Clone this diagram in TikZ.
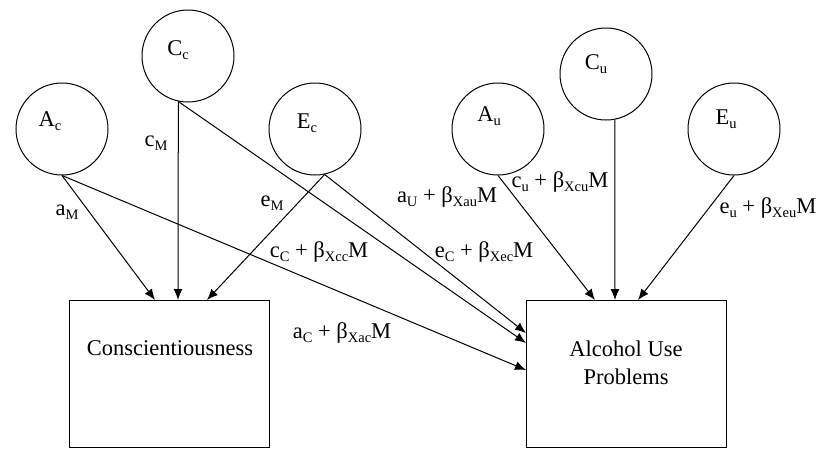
\documentclass[tikz,border=0pt]{standalone}
\usepackage{fontspec}
\setmainfont{Liberation Serif}
\usetikzlibrary{arrows.meta,calc}
\newcommand\sbs[1]{\raisebox{-0.35ex}{\fontsize{14.5}{14.5}\selectfont #1}}
\begin{document}
\begin{tikzpicture}[x=1pt,y=-1pt,
  latent/.style={circle,draw,line width=1pt,minimum size=92pt,inner sep=0pt},
  obs/.style={draw,line width=1pt,minimum width=200pt,minimum height=147pt,anchor=north west,inner sep=0pt},
  arr/.style={line width=1pt,-{Latex[length=11pt,width=9pt]}},
  lbl/.style={font=\fontsize{22.5}{24}\selectfont,inner sep=0pt},
  txt/.style={font=\fontsize{22.5}{28}\selectfont,inner sep=0pt,align=center}]
\useasboundingbox (0,0) rectangle (819,450);
% latent variables
\node[latent] (Ac) at (62,129) {};
\node[latent] (Cc) at (188,56) {};
\node[latent] (Ec) at (315,129) {};
\node[latent] (Au) at (498,129) {};
\node[latent] (Cu) at (606,74) {};
\node[latent] (Eu) at (734,129) {};
\node[lbl] (tAc) at (50,121) {A\sbs{c}};
\node[lbl] (tCc) at (178,50) {C\sbs{c}};
\node[lbl] (tEc) at (307,123) {E\sbs{c}};
\node[lbl] (tAu) at (489,116) {A\sbs{u}};
\node[lbl] (tCu) at (596,64) {C\sbs{u}};
\node[lbl] (tEu) at (726,119) {E\sbs{u}};
% observed
\node[obs] (cons) at (69,300) {};
\node[obs] (alc) at (526,300) {};
\node[txt] (tcons) at (170,348) {Conscientiousness};
\node[txt] (talc) at (626,363) {Alcohol Use\\Problems};
% target points
\coordinate (k1) at ($(cons.north west)+(86,0)$);
\coordinate (k2) at ($(cons.north west)+(109,0)$);
\coordinate (k3) at ($(cons.north west)+(138,0)$);
\coordinate (u1) at ($(alc.north west)+(69,0)$);
\coordinate (u2) at ($(alc.north west)+(89,0)$);
\coordinate (u3) at ($(alc.north west)+(112,0)$);
\coordinate (s1) at ($(alc.north west)+(0,33)$);
\coordinate (s2) at ($(alc.north west)+(0,43)$);
\coordinate (s3) at ($(alc.north west)+(0,70)$);
% paths
\draw[arr] (Ac.270) -- (k1);
\draw[arr] (Cc.258) -- (k2);
\draw[arr] (Ec.282) -- (k3);
\draw[arr] (Ec.282) -- (s1);
\draw[arr] (Cc.258) -- (s2);
\draw[arr] (Ac.270) -- (s3);
\draw[arr] (Au.270) -- (u1);
\draw[arr] (Cu.281) -- (u2);
\draw[arr] (Eu.270) -- (u3);
% labels
\node[lbl] (laM) at (67,212) {a\sbs{M}};
\node[lbl] (lcM) at (156,143) {c\sbs{M}};
\node[lbl] (leM) at (272,203) {e\sbs{M}};
\node[lbl] (lau) at (447,197) {a\sbs{U} + β\sbs{Xau}M};
\node[lbl] (lcu) at (560,182) {c\sbs{u} + β\sbs{Xcu}M};
\node[lbl] (leu) at (768,208) {e\sbs{u} + β\sbs{Xeu}M};
\node[lbl] (lcc) at (319,252) {c\sbs{C} + β\sbs{Xcc}M};
\node[lbl] (lec) at (484,252) {e\sbs{C} + β\sbs{Xec}M};
\node[lbl] (lac) at (342,333) {a\sbs{C} + β\sbs{Xac}M};
\end{tikzpicture}
\end{document}
